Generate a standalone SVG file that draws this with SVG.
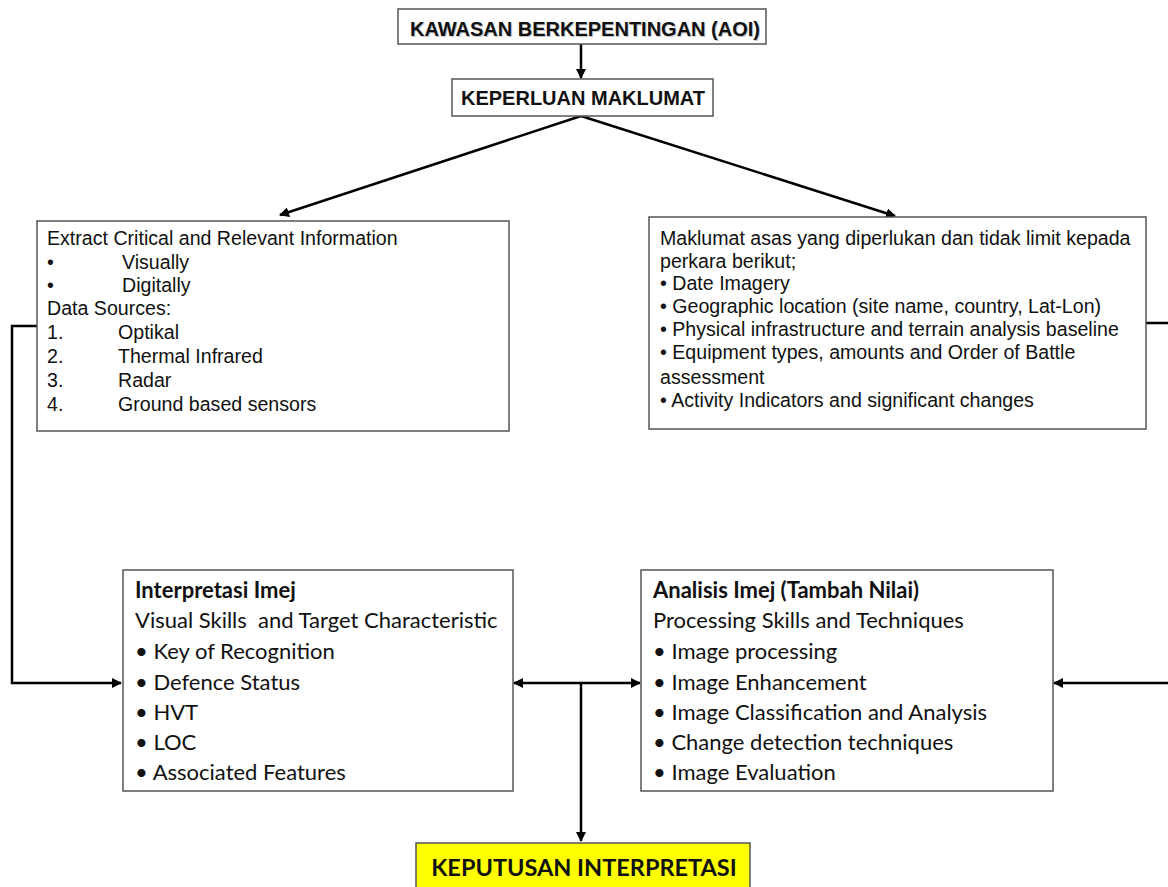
<svg xmlns="http://www.w3.org/2000/svg" width="1168" height="887" viewBox="0 0 1168 887">
<style>
.box{fill:#fff;stroke:#555;stroke-width:1.5}
.t1{font-family:"Liberation Sans",Arial,sans-serif;font-size:19.6px;fill:#111}
.hd{font-family:"Liberation Sans",Arial,sans-serif;font-size:20px;font-weight:bold;fill:#111}
.sh{font-family:"Liberation Sans",Arial,sans-serif;font-size:20px;font-weight:bold;fill:#aaa;opacity:0.7}
.c{font-family:Lato,"Open Sans",sans-serif;font-size:22px;fill:#111}
.cb{font-family:Lato,"Open Sans",sans-serif;font-size:22px;font-weight:bold;fill:#111}
.ln{fill:none;stroke:#000;stroke-width:2.5}
</style>
<defs>
<marker id="ah" viewBox="0 0 10 10" refX="9" refY="5" markerWidth="4" markerHeight="4" orient="auto-start-reverse" markerUnits="strokeWidth">
<path d="M0,0 L10,5 L0,10 z" fill="#000"/>
</marker>
</defs>
<rect width="1168" height="887" fill="#fff"/>

<g id="connectors">
<line class="ln" x1="581" y1="44" x2="581" y2="78" marker-end="url(#ah)"/>
<line class="ln" x1="581" y1="116" x2="280" y2="215" stroke-width="3" marker-end="url(#ah)"/>
<line class="ln" x1="581" y1="116" x2="895" y2="216" stroke-width="3" marker-end="url(#ah)"/>
<polyline class="ln" points="37,326 12,326 12,683 121,683" marker-end="url(#ah)"/>
<polyline class="ln" points="1146,323 1170,323 1170,683 1054,683" marker-end="url(#ah)"/>
<line class="ln" x1="514" y1="683" x2="640" y2="683" marker-start="url(#ah)" marker-end="url(#ah)"/>
<line class="ln" x1="581" y1="683" x2="581" y2="841" marker-end="url(#ah)"/>
</g>

<g id="aoi">
<rect class="box" x="398" y="9" width="368" height="35"/>
<text class="sh" x="586" y="37" text-anchor="middle">KAWASAN BERKEPENTINGAN (AOI)</text>
<text class="hd" x="585" y="36" text-anchor="middle">KAWASAN BERKEPENTINGAN (AOI)</text>
</g>

<g id="keperluan">
<rect class="box" x="452" y="79" width="261" height="37"/>
<text class="hd" x="583" y="105" text-anchor="middle">KEPERLUAN MAKLUMAT</text>
</g>

<g id="extract">
<rect class="box" x="37" y="221" width="472" height="210"/>
<text class="t1" x="47" y="245">Extract Critical and Relevant Information</text>
<text class="t1" x="47" y="269">•</text><text class="t1" x="122" y="269">Visually</text>
<text class="t1" x="47" y="292">•</text><text class="t1" x="122" y="292">Digitally</text>
<text class="t1" x="47" y="315">Data Sources:</text>
<text class="t1" x="47" y="339">1.</text><text class="t1" x="118" y="339">Optikal</text>
<text class="t1" x="47" y="363">2.</text><text class="t1" x="118" y="363">Thermal Infrared</text>
<text class="t1" x="47" y="387">3.</text><text class="t1" x="118" y="387">Radar</text>
<text class="t1" x="47" y="411">4.</text><text class="t1" x="118" y="411">Ground based sensors</text>
</g>

<g id="maklumat">
<rect class="box" x="649" y="217" width="497" height="212"/>
<text class="t1" x="660" y="245">Maklumat asas yang diperlukan dan tidak limit kepada</text>
<text class="t1" x="660" y="268">perkara berikut;</text>
<text class="t1" x="660" y="290">• Date Imagery</text>
<text class="t1" x="660" y="313">• Geographic location (site name, country, Lat-Lon)</text>
<text class="t1" x="660" y="336">• Physical infrastructure and terrain analysis baseline</text>
<text class="t1" x="660" y="359">• Equipment types, amounts and Order of Battle</text>
<text class="t1" x="660" y="384">assessment</text>
<text class="t1" x="660" y="407">• Activity Indicators and significant changes</text>
</g>

<g id="interpretasi">
<rect class="box" x="123" y="570" width="390" height="221"/>
<text class="cb" x="135" y="598">Interpretasi Imej</text>
<text class="c" x="135" y="628" xml:space="preserve">Visual Skills  and Target Characteristic</text>
<text class="c" x="135" y="659">• Key of Recognition</text>
<text class="c" x="135" y="690">• Defence Status</text>
<text class="c" x="135" y="720">• HVT</text>
<text class="c" x="135" y="750">• LOC</text>
<text class="c" x="135" y="780">• Associated Features</text>
</g>

<g id="analisis">
<rect class="box" x="641" y="570" width="412" height="221"/>
<text class="cb" x="653" y="598">Analisis Imej (Tambah Nilai)</text>
<text class="c" x="653" y="628">Processing Skills and Techniques</text>
<text class="c" x="653" y="659">• Image processing</text>
<text class="c" x="653" y="690">• Image Enhancement</text>
<text class="c" x="653" y="720">• Image Classification and Analysis</text>
<text class="c" x="653" y="750">• Change detection techniques</text>
<text class="c" x="653" y="780">• Image Evaluation</text>
</g>

<g id="keputusan">
<rect x="416" y="843" width="334" height="60" fill="#ffff00" stroke="#555" stroke-width="1.5"/>
<text class="cb" x="584" y="876" text-anchor="middle" style="font-size:23.5px">KEPUTUSAN INTERPRETASI</text>
</g>
</svg>
